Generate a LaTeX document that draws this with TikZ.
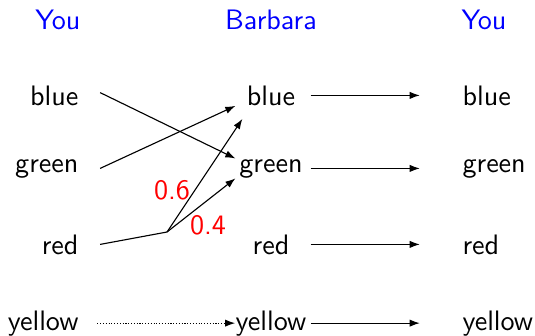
\documentclass[tikz,border=0pt]{standalone}
\usetikzlibrary{arrows.meta,positioning,calc}

\begin{document}
\begin{tikzpicture}[x=0.0125cm, y=-0.0125cm, font=\sffamily,
    who/.style={text=blue, anchor=base},
    src/.style={anchor=base east, inner sep=0pt},
    mid/.style={anchor=base, inner sep=0pt, minimum width=0.875cm},
    dst/.style={anchor=base west, inner sep=0pt},
    link/.style={-{Latex[length=3.6pt,width=2.6pt]}},
    prob/.style={text=red}
  ]
    \useasboundingbox (0,0) rectangle (535,335);
    % column heads
    \node[who] (you1) at (58,29) {You};
    \node[who] (barb) at (271,29) {Barbara};
    \node[who] (you2) at (484,29) {You};
    % what you say
    \node[src] (lblue) at (79,105) {blue};
    \node[src] (lgreen) at (79,172) {green};
    \node[src] (lred) at (79,254) {red};
    \node[src] (lyellow) at (79,330) {yellow};
    % what Barbara hears
    \node[mid] (mblue) at (271,105) {blue};
    \node[mid] (mgreen) at (271,172) {green};
    \node[mid] (mred) at (271,254) {red};
    \node[mid] (myellow) at (271,330) {yellow};
    % what comes back
    \node[dst] (rblue) at (462,105) {blue};
    \node[dst] (rgreen) at (462,172) {green};
    \node[dst] (rred) at (462,254) {red};
    \node[dst] (ryellow) at (462,330) {yellow};
    \coordinate (split) at (167,232);

    \draw[link] ([xshift=7.5pt,yshift=1pt]lblue.east) -- (mgreen.north west);
    \draw[link] ([xshift=7.5pt]lgreen.east) -- (mblue.south west);
    \draw ([xshift=7.5pt]lred.east) -- (split);
    \draw[link] (split) -- ($(mblue.south west)+(7,13)$);
    \draw[link] (split) -- (mgreen.south west);
    \draw[link, dash pattern=on 0.4pt off 0.6pt] ([xshift=6.5pt]lyellow.east) -- (myellow.west);
    \node[prob] (p1) at (172,190) {0.6};
    \node[prob] (p2) at (208,225) {0.4};

    \foreach \c in {blue,green,red,yellow}
      \draw[link, shorten <=1.4pt, shorten >=15pt] (m\c.east) -- (r\c.west);
\end{tikzpicture}
\end{document}
